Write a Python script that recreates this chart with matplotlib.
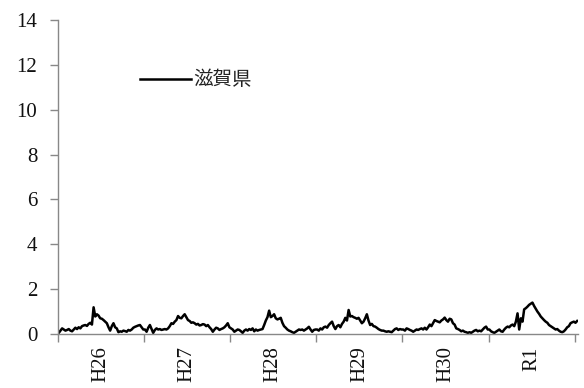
import numpy as np
import matplotlib.pyplot as plt
from matplotlib.ticker import FixedLocator

# weekly values, one list per fiscal year (52 weeks each)
h26 = [0.05, 0.15, 0.25, 0.2, 0.15, 0.18, 0.22, 0.15, 0.12, 0.2, 0.28, 0.22, 0.3,
       0.25, 0.35, 0.38, 0.4, 0.36, 0.45, 0.5, 0.42, 1.19, 0.78, 0.88, 0.82, 0.7,
       0.68, 0.62, 0.55, 0.48, 0.3, 0.15, 0.35, 0.48, 0.3, 0.25, 0.08, 0.12, 0.1,
       0.15, 0.13, 0.1, 0.18, 0.15, 0.2, 0.28, 0.32, 0.35, 0.38, 0.4, 0.3, 0.2]
h27 = [0.2, 0.1, 0.28, 0.4, 0.22, 0.05, 0.18, 0.25, 0.2, 0.22, 0.18, 0.2, 0.22,
       0.2, 0.25, 0.35, 0.48, 0.45, 0.55, 0.62, 0.8, 0.72, 0.7, 0.8, 0.88, 0.75,
       0.62, 0.58, 0.5, 0.52, 0.48, 0.42, 0.45, 0.38, 0.4, 0.44, 0.42, 0.35, 0.4,
       0.3, 0.22, 0.1, 0.2, 0.28, 0.25, 0.18, 0.22, 0.25, 0.3, 0.38, 0.48, 0.3]
h28 = [0.25, 0.2, 0.1, 0.15, 0.2, 0.18, 0.12, 0.05, 0.15, 0.2, 0.15, 0.22, 0.18,
       0.25, 0.12, 0.2, 0.15, 0.18, 0.2, 0.22, 0.4, 0.6, 0.75, 1.04, 0.75, 0.8,
       0.88, 0.7, 0.65, 0.68, 0.72, 0.5, 0.35, 0.28, 0.2, 0.15, 0.12, 0.08, 0.05,
       0.1, 0.15, 0.2, 0.18, 0.2, 0.15, 0.2, 0.25, 0.32, 0.2, 0.1, 0.18, 0.2]
h29 = [0.2, 0.15, 0.25, 0.2, 0.3, 0.33, 0.28, 0.4, 0.48, 0.55, 0.35, 0.22, 0.35,
       0.4, 0.3, 0.45, 0.55, 0.72, 0.6, 1.07, 0.78, 0.8, 0.75, 0.72, 0.68, 0.72,
       0.6, 0.48, 0.55, 0.7, 0.88, 0.6, 0.4, 0.45, 0.35, 0.33, 0.28, 0.22, 0.18,
       0.15, 0.15, 0.12, 0.1, 0.12, 0.1, 0.08, 0.15, 0.22, 0.25, 0.18, 0.22, 0.2]
h30 = [0.2, 0.15, 0.25, 0.22, 0.18, 0.15, 0.1, 0.15, 0.2, 0.18, 0.22, 0.25, 0.2,
       0.28, 0.2, 0.3, 0.42, 0.35, 0.48, 0.62, 0.58, 0.55, 0.52, 0.6, 0.65, 0.73,
       0.62, 0.55, 0.68, 0.65, 0.48, 0.42, 0.25, 0.22, 0.18, 0.12, 0.15, 0.1, 0.08,
       0.05, 0.08, 0.05, 0.1, 0.15, 0.18, 0.12, 0.15, 0.12, 0.2, 0.28, 0.33, 0.2]
r1 = [0.2, 0.12, 0.08, 0.05, 0.1, 0.15, 0.2, 0.12, 0.1, 0.2, 0.28, 0.33, 0.3,
      0.38, 0.42, 0.35, 0.55, 0.92, 0.2, 0.7, 0.55, 1.1, 1.15, 1.22, 1.3, 1.35,
      1.4, 1.25, 1.12, 1.0, 0.9, 0.78, 0.7, 0.62, 0.55, 0.5, 0.4, 0.35, 0.3,
      0.25, 0.2, 0.22, 0.15, 0.1, 0.08, 0.12, 0.2, 0.3, 0.35, 0.48, 0.52, 0.55]
r2 = [0.5, 0.58]

years = ['H26', 'H27', 'H28', 'H29', 'H30', 'R1']
series_name = '滋賀県'

values = np.array(h26 + h27 + h28 + h29 + h30 + r1 + r2)
n = len(values)
x = np.arange(n)

fig = plt.figure(figsize=(5.84, 3.88), dpi=100)
ax = fig.add_axes([0.0993, 0.1392, 0.8904, 0.8093])

ax.plot(x, values, color='black', lw=1.8, label=series_name)

ax.set_xlim(-0.5, n - 0.5)
ax.set_ylim(0, 14)
ax.set_yticks(np.arange(0, 15, 2))

serif = 'Liberation Serif'
for lab in ax.get_yticklabels():
    lab.set_fontfamily(serif)
    lab.set_fontsize(15)
    lab.set_color('#111111')

# year labels centred, tick marks on the year boundaries
centers = [-0.5 + 26 + 52 * k for k in range(len(years))]
bounds = [-0.5 + 52 * k for k in range(len(years) + 1)]
ax.set_xticks(centers)
ax.set_xticklabels(years, rotation=90, fontfamily=serif, fontsize=15, color='#111111')
ax.xaxis.set_minor_locator(FixedLocator(bounds))
ax.tick_params(axis='x', which='major', length=0, pad=9)
ax.tick_params(axis='x', which='minor', length=6, color='#888888', width=1)
ax.tick_params(axis='y', length=6, color='#888888', width=1, pad=9)

for s in ['top', 'right']:
    ax.spines[s].set_visible(False)
for s in ['left', 'bottom']:
    ax.spines[s].set_color('#888888')
    ax.spines[s].set_linewidth(1)

leg = ax.legend(loc='center left', bbox_to_anchor=(0.158, 0.809), frameon=False,
                handlelength=2.6, handletextpad=0.15, borderpad=0, borderaxespad=0,
                prop={'family': ['Noto Sans CJK JP', 'DejaVu Sans'], 'size': 14})
for t in leg.get_texts():
    t.set_color('#222222')

fig.savefig('out.png', dpi=100)
